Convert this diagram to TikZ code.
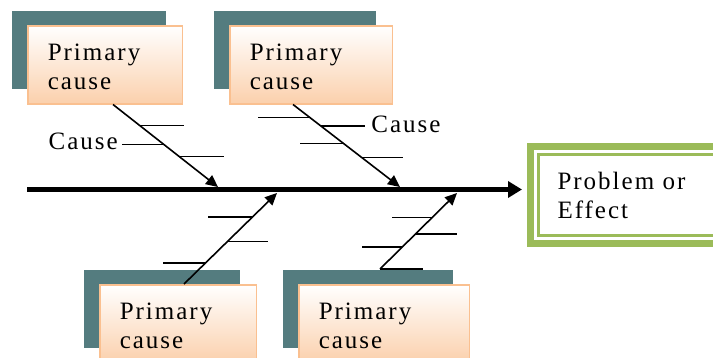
\documentclass[tikz,border=0pt]{standalone}
\usepackage{fontspec}
\setmainfont[LetterSpace=8]{Liberation Serif}
\usepackage{xcolor}
\usetikzlibrary{arrows.meta,calc,shadows}
\definecolor{boxedge}{RGB}{250,192,144}
\definecolor{boxfill}{RGB}{251,208,172}
\definecolor{shade}{RGB}{84,124,127}
\definecolor{effgreen}{RGB}{155,187,89}
\begin{document}
\begin{tikzpicture}[x=1pt,y=-1pt,font=\fontsize{25}{29}\selectfont,
  pcause/.style={draw=boxedge,line width=1.5pt,top color=white,bottom color=boxfill,
    anchor=north west,align=left,text width=#1,inner xsep=20pt,minimum height=78pt,
    execute at begin node={\rule{0pt}{21pt}},
    general shadow={fill=shade,shadow xshift=-16pt,shadow yshift=15pt}},
  effect/.style={draw=effgreen,line width=7pt,anchor=north west,align=left,
    text width=175pt,inner xsep=27pt,minimum height=97pt},
  bone/.style={line width=1.6pt,-{Triangle[length=12pt,width=11pt]}},
  tick/.style={line width=1.2pt}]
  \useasboundingbox (0,0) rectangle (713,357);
  \node[pcause=114.5pt] (p1) at (27,25) {Primary\\cause};
  \node[pcause=122.5pt] (p2) at (229,25) {Primary\\cause};
  \node[pcause=116.5pt] (p3) at (99,284) {Primary\\cause};
  \node[pcause=130.5pt] (p4) at (298,284) {Primary\\cause};
  \node[effect] (eff) at (527,143) {Problem or\\Effect};
  \draw[effgreen,line width=2.5pt] ([shift={(11.5pt,-11.5pt)}]eff.north west)
    rectangle ([shift={(-11.5pt,11.5pt)}]eff.south east);
  \coordinate (tail) at (27,189.5);
  \draw[line width=5pt,-{Triangle[length=14pt,width=16pt]},shorten >=5pt]
    (tail) -- (tail -| eff.west);
  \coordinate (s1) at ([xshift=8pt]p1.south);
  \coordinate (h1) at (218,187);
  \coordinate (s2) at ([xshift=-18pt]p2.south);
  \coordinate (h2) at (400,187);
  \coordinate (s3) at ([xshift=6pt]p3.north);
  \coordinate (h3) at (277,193);
  \coordinate (s4) at ([shift={(-4pt,15pt)}]p4.north);
  \coordinate (h4) at (457,193);
  \foreach \b in {1,...,4} \draw[bone] (s\b) -- (h\b);
  \foreach \t/\l in {.25/45,.63/45} \draw[tick] ($(s1)!\t!(h1)$) -- ++(\l,0);
  \foreach \t/\l in {.155/-52,.476/-44,.64/42} \draw[tick] ($(s2)!\t!(h2)$) -- ++(\l,0);
  \foreach \t/\l in {.23/-42,.47/40,.736/-44} \draw[tick] ($(s3)!\t!(h3)$) -- ++(\l,0);
  \foreach \t/\l in {0/43,.29/-40,.46/42,.68/-40} \draw[tick] ($(s4)!\t!(h4)$) -- ++(\l,0);
  \draw[tick] ($(s1)!.48!(h1)$) -- ++(-41,0) node[left,inner sep=4pt,yshift=3pt] (c1) {Cause};
  \draw[tick] ($(s2)!.26!(h2)$) -- ++(44,0) node[right,inner sep=6pt,yshift=2pt] (c2) {Cause};
\end{tikzpicture}
\end{document}
